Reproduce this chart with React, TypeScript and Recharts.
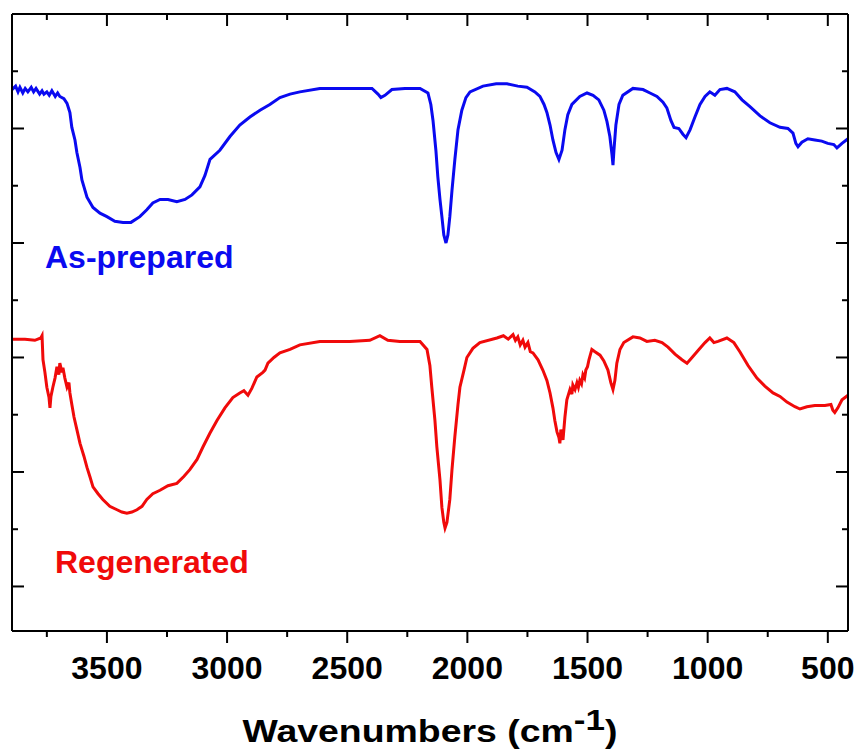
import React from 'react';
import { LineChart, Line, XAxis, YAxis } from 'recharts';

const FONT = '"Liberation Sans", Arial, Helvetica, sans-serif';

// [wavenumber (cm-1), transmittance (a.u.)]
const asPrepared: [number, number][] = [
  [3895, 53.4], [3880, 53.7], [3870, 53.2], [3862, 53.6], [3850, 53.1], [3840, 53.5], [3829, 53.2],
  [3815, 53.6], [3805, 53.2], [3795, 53.5], [3780, 53.0], [3770, 53.3], [3762, 53.0], [3750, 53.2],
  [3740, 52.9], [3729, 53.3], [3715, 52.8], [3705, 53.1], [3696, 52.8], [3679, 52.6], [3666, 52.2],
  [3654, 51.4], [3646, 50.1], [3633, 49.0], [3625, 47.9], [3612, 46.6], [3604, 45.5], [3583, 44.0],
  [3558, 43.1], [3529, 42.6], [3500, 42.3], [3467, 41.9], [3433, 41.8], [3400, 41.8], [3363, 42.3],
  [3334, 42.9], [3309, 43.5], [3279, 43.8], [3246, 43.8], [3209, 43.6], [3175, 43.8], [3146, 44.2],
  [3113, 44.9], [3092, 45.9], [3071, 47.3], [3030, 48.1], [2988, 49.3], [2947, 50.3], [2905, 51.0],
  [2863, 51.6], [2822, 52.1], [2780, 52.7], [2738, 53.0], [2697, 53.2], [2614, 53.5], [2489, 53.5],
  [2397, 53.5], [2372, 53.0], [2360, 52.7], [2343, 52.9], [2314, 53.4], [2260, 53.5], [2197, 53.5],
  [2164, 53.1], [2152, 52.1], [2143, 50.7], [2131, 48.1], [2123, 45.8], [2114, 43.8], [2106, 42.3],
  [2098, 40.7], [2089, 40.0], [2081, 40.7], [2073, 42.3], [2064, 44.6], [2052, 47.3], [2039, 49.9],
  [2023, 51.6], [2006, 52.7], [1989, 53.2], [1935, 53.7], [1880, 53.9], [1835, 53.9], [1790, 53.7],
  [1752, 53.6], [1719, 53.2], [1698, 52.8], [1681, 52.1], [1669, 51.4], [1656, 50.3], [1644, 49.0],
  [1631, 47.9], [1619, 47.3], [1606, 48.1], [1594, 49.9], [1582, 51.2], [1565, 52.1], [1532, 52.8],
  [1502, 53.1], [1477, 52.9], [1453, 52.5], [1432, 51.6], [1419, 50.6], [1407, 49.3], [1398, 47.7],
  [1394, 46.8], [1390, 48.1], [1382, 50.3], [1369, 52.1], [1353, 52.9], [1311, 53.5], [1269, 53.4],
  [1240, 53.1], [1211, 52.8], [1186, 52.3], [1170, 51.8], [1153, 50.7], [1140, 50.1], [1120, 50.0],
  [1103, 49.5], [1090, 49.2], [1073, 49.9], [1053, 51.0], [1032, 52.1], [1011, 52.8], [991, 53.2],
  [970, 52.9], [949, 53.4], [920, 53.5], [887, 53.2], [857, 52.5], [824, 51.9], [782, 51.1],
  [741, 50.5], [699, 50.1], [666, 50.0], [645, 49.6], [633, 48.7], [624, 48.4], [608, 48.8],
  [583, 49.1], [554, 49.0], [525, 48.9], [500, 48.7], [475, 48.6], [462, 48.3], [441, 48.7], [416, 49.1],
];

const regenerated: [number, number][] = [
  [3895, 31.6], [3841, 31.6], [3800, 31.5], [3775, 31.7], [3770, 31.9], [3766, 29.8], [3758, 28.7],
  [3750, 27.4], [3741, 26.5], [3737, 25.6], [3733, 26.6], [3725, 27.4], [3716, 28.2], [3708, 29.2],
  [3700, 28.5], [3696, 29.5], [3687, 28.7], [3683, 29.1], [3675, 28.2], [3666, 27.4], [3658, 27.8],
  [3654, 26.9], [3646, 25.9], [3637, 24.8], [3625, 23.7], [3612, 22.5], [3596, 21.4], [3583, 20.4],
  [3571, 19.6], [3558, 18.7], [3537, 18.1], [3517, 17.6], [3488, 17.0], [3458, 16.7], [3438, 16.5],
  [3417, 16.4], [3396, 16.5], [3375, 16.7], [3354, 17.0], [3334, 17.6], [3309, 18.1], [3279, 18.4],
  [3246, 18.8], [3209, 19.0], [3180, 19.6], [3155, 20.2], [3125, 21.1], [3100, 22.2], [3071, 23.4],
  [3042, 24.5], [3009, 25.6], [2976, 26.5], [2947, 26.9], [2930, 27.1], [2913, 26.7], [2897, 27.3],
  [2876, 28.3], [2851, 28.7], [2842, 28.9], [2830, 29.5], [2805, 30.0], [2780, 30.4], [2738, 30.7],
  [2697, 31.1], [2614, 31.4], [2489, 31.4], [2406, 31.5], [2364, 31.9], [2331, 31.5], [2281, 31.4],
  [2197, 31.4], [2168, 30.7], [2156, 29.3], [2148, 27.4], [2135, 24.5], [2127, 22.2], [2114, 19.3],
  [2106, 16.9], [2098, 15.6], [2093, 15.1], [2085, 15.6], [2073, 17.6], [2064, 20.2], [2052, 23.1],
  [2039, 25.9], [2031, 27.4], [2014, 28.9], [2002, 30.0], [1977, 30.8], [1948, 31.3], [1877, 31.7],
  [1850, 31.9], [1830, 31.6], [1810, 32.0], [1800, 31.5], [1790, 31.8], [1780, 31.1], [1769, 31.5],
  [1760, 30.9], [1748, 31.3], [1738, 30.5], [1727, 30.4], [1706, 29.8], [1686, 28.9], [1669, 28.0],
  [1656, 26.9], [1644, 25.6], [1636, 24.5], [1627, 23.5], [1619, 23.0], [1615, 22.5], [1611, 23.7],
  [1602, 22.8], [1594, 24.8], [1586, 26.3], [1573, 27.2], [1565, 26.8], [1561, 27.6], [1552, 27.2],
  [1544, 27.8], [1538, 27.4], [1532, 28.0], [1525, 27.7], [1519, 28.5], [1512, 28.2], [1507, 28.9],
  [1500, 29.2], [1494, 29.8], [1482, 30.7], [1469, 30.5], [1448, 30.2], [1432, 29.7], [1415, 28.9],
  [1403, 27.8], [1394, 27.2], [1386, 28.0], [1378, 29.5], [1365, 30.7], [1349, 31.3], [1311, 31.8],
  [1282, 31.7], [1253, 31.4], [1220, 31.5], [1190, 31.3], [1165, 30.9], [1136, 30.3], [1107, 29.8],
  [1086, 29.5], [1065, 30.0], [1040, 30.6], [1011, 31.3], [991, 31.7], [974, 31.3], [957, 31.4],
  [920, 31.7], [891, 31.3], [866, 30.5], [832, 29.3], [795, 28.2], [762, 27.5], [728, 26.9],
  [699, 26.6], [670, 26.1], [637, 25.7], [616, 25.5], [587, 25.7], [554, 25.8], [512, 25.8],
  [487, 25.9], [479, 25.4], [471, 25.2], [458, 25.6], [441, 26.3], [416, 26.7],
];

const xDomain: [number, number] = [416, 3895];
const yDomain: [number, number] = [6.11, 60];
const xTicks = [3750, 3500, 3250, 3000, 2750, 2500, 2250, 2000, 1750, 1500, 1250, 1000, 750, 500];
const yTicks = [10, 15, 20, 25, 30, 35, 40, 45, 50, 55];
const seriesNames = ['As-prepared', 'Regenerated'];
const seriesColors = ['#0a0af0', '#f00a0a'];

const blueData = asPrepared.map(([w, t]) => ({ w, t }));
const redData = regenerated.map(([w, t]) => ({ w, t }));

const isMajorX = (v: number) => v % 500 === 0;
const isMajorY = (v: number) => v % 10 === 0;

const BottomTick = (props: any) => {
  const { x, y, payload } = props;
  const major = isMajorX(payload.value);
  return (
    <g>
      <line x1={x} x2={x} y1={y} y2={y + (major ? 12 : 6)} stroke="#000" strokeWidth={2} />
      {major && (
        <text x={x} y={y + 48} textAnchor="middle" fontFamily={FONT} fontWeight="bold" fontSize={32} fill="#000">
          {payload.value}
        </text>
      )}
    </g>
  );
};

const TopTick = (props: any) => {
  const { x, y, payload } = props;
  const major = isMajorX(payload.value);
  return <line x1={x} x2={x} y1={y} y2={y + (major ? 12 : 6)} stroke="#000" strokeWidth={2} />;
};

const LeftTick = (props: any) => {
  const { x, y, payload } = props;
  const major = isMajorY(payload.value);
  return <line x1={x} x2={x + (major ? 12 : 6)} y1={y} y2={y} stroke="#000" strokeWidth={2} />;
};

const RightTick = (props: any) => {
  const { x, y, payload } = props;
  const major = isMajorY(payload.value);
  return <line x1={x} x2={x - (major ? 12 : 6)} y1={y} y2={y} stroke="#000" strokeWidth={2} />;
};

const axisLine = { stroke: '#000', strokeWidth: 2 };

export default function App() {
  return (
    <div style={{ position: 'absolute', left: 0, top: 0, width: 861, height: 754, background: '#fff' }}>
      <LineChart width={861} height={754} margin={{ top: 13, right: 12, bottom: 122, left: 11 }}>
        <XAxis
          xAxisId="bottom"
          orientation="bottom"
          type="number"
          dataKey="w"
          domain={xDomain}
          allowDataOverflow
          reversed
          ticks={xTicks}
          interval={0}
          height={1}
          tickSize={0}
          tickMargin={0}
          tickLine={false}
          axisLine={axisLine}
          tick={(p: any) => <BottomTick {...p} />}
        />
        <XAxis
          xAxisId="top"
          orientation="top"
          type="number"
          dataKey="w"
          domain={xDomain}
          allowDataOverflow
          reversed
          ticks={xTicks}
          interval={0}
          height={1}
          tickSize={0}
          tickMargin={0}
          tickLine={false}
          axisLine={axisLine}
          tick={(p: any) => <TopTick {...p} />}
        />
        <YAxis
          yAxisId="left"
          orientation="left"
          type="number"
          domain={yDomain}
          allowDataOverflow
          ticks={yTicks}
          interval={0}
          width={1}
          tickSize={0}
          tickMargin={0}
          tickLine={false}
          axisLine={axisLine}
          tick={(p: any) => <LeftTick {...p} />}
        />
        <YAxis
          yAxisId="right"
          orientation="right"
          type="number"
          domain={yDomain}
          allowDataOverflow
          ticks={yTicks}
          interval={0}
          width={1}
          tickSize={0}
          tickMargin={0}
          tickLine={false}
          axisLine={axisLine}
          tick={(p: any) => <RightTick {...p} />}
        />
        <Line
          xAxisId="bottom"
          yAxisId="left"
          data={blueData}
          dataKey="t"
          name={seriesNames[0]}
          type="linear"
          stroke={seriesColors[0]}
          strokeWidth={3}
          dot={false}
          isAnimationActive={false}
        />
        <Line
          xAxisId="top"
          yAxisId="right"
          data={redData}
          dataKey="t"
          name={seriesNames[1]}
          type="linear"
          stroke={seriesColors[1]}
          strokeWidth={3}
          dot={false}
          isAnimationActive={false}
        />
      </LineChart>
      <svg
        width={861}
        height={754}
        style={{ position: 'absolute', left: 0, top: 0, pointerEvents: 'none' }}
      >
        <text x={45} y={268} fontFamily={FONT} fontWeight="bold" fontSize={32} fill={seriesColors[0]}>
          {seriesNames[0]}
        </text>
        <text x={55} y={573} fontFamily={FONT} fontWeight="bold" fontSize={32} fill={seriesColors[1]}>
          {seriesNames[1]}
        </text>
        <g transform="translate(430,742) scale(1.17,1)">
          <text x={0} y={0} textAnchor="middle" fontFamily={FONT} fontWeight="bold" fontSize={32} fill="#000">
            Wavenumbers (cm<tspan dy={-12} fontSize={30}>-1</tspan>
            <tspan dy={12}>)</tspan>
          </text>
        </g>
      </svg>
    </div>
  );
}
